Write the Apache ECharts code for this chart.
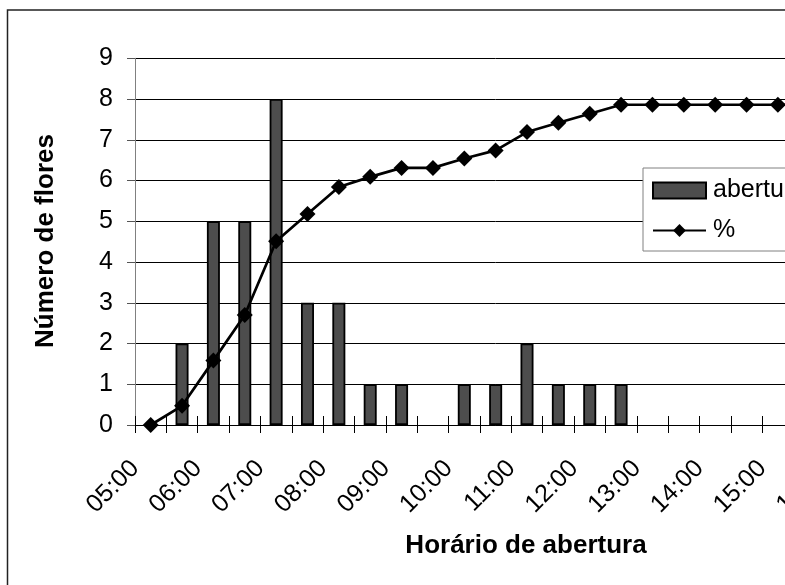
<!DOCTYPE html>
<html>
<head>
<meta charset="utf-8">
<script src="https://cdn.jsdelivr.net/npm/echarts@6/dist/echarts.min.js"></script>
<style>
html,body{margin:0;padding:0;width:785px;height:585px;overflow:hidden;background:#fff;}
#c{width:900px;height:585px;}
</style>
</head>
<body>
<div id="c"></div>
<script>
const categories = ["05:00","05:30","06:00","06:30","07:00","07:30","08:00","08:30","09:00","09:30","10:00","10:30","11:00","11:30","12:00","12:30","13:00","13:30","14:00","14:30","15:00","15:30","16:00"];
const abertura = [0,2,5,5,8,3,3,1,1,0,1,1,2,1,1,1,0,0,0,0,0,0,0];
const percent = [0,0.47,1.58,2.7,4.51,5.18,5.84,6.09,6.31,6.31,6.54,6.74,7.19,7.42,7.64,7.86,7.86,7.86,7.86,7.86,7.86,7.86,7.86];
const yTicks = [0,1,2,3,4,5,6,7,8,9];
const yTitle = "Número de flores";
const xTitle = "Horário de abertura";

const FONT = "'Liberation Sans', Arial, sans-serif";
const chart = echarts.init(document.getElementById('c'), null, {renderer:'canvas'});
chart.setOption({
  animation:false,
  backgroundColor:'#fff',
  grid:{left:135, right:43.7, top:58.3, bottom:160, containLabel:false},
  legend:{
    left:643, top:168, orient:'vertical',
    backgroundColor:'#fff', borderColor:'#808080', borderWidth:1,
    padding:[10,80,8,9], itemGap:15, itemWidth:53, itemHeight:16,
    textStyle:{fontFamily:FONT, fontSize:25, color:'#000', padding:[0,0,0,2]},
    data:[{name:'abertura', icon:'rect'},{name:'%'}]
  },
  xAxis:[{
    type:'category', data:categories, position:'bottom',
    axisLine:{lineStyle:{color:'#000', width:1}},
    axisTick:{show:true, length:8, interval:0, lineStyle:{color:'#000'}},
    axisLabel:{interval:1, rotate:45, margin:24, padding:[0,22,0,0], fontFamily:FONT, fontSize:25, color:'#000'},
    splitLine:{show:false}
  },{
    type:'category', data:categories, position:'bottom',
    axisLine:{show:false},
    axisTick:{show:true, inside:true, length:9, interval:0, lineStyle:{color:'#000'}},
    axisLabel:{show:false}, splitLine:{show:false}
  }],
  yAxis:{
    type:'value', min:yTicks[0], max:yTicks[yTicks.length-1], interval:1,
    axisLine:{show:true, lineStyle:{color:'#808080', width:1}},
    axisTick:{show:true, length:8, lineStyle:{color:'#555'}},
    axisLabel:{margin:22, fontFamily:FONT, fontSize:25, color:'#000'},
    splitLine:{show:true, lineStyle:{color:'#000', width:1}}
  },
  series:[{
    name:'abertura', type:'bar', data:abertura.map(v => v === 0 ? '-' : v), barWidth:13,
    itemStyle:{color:'#4d4d4d', borderColor:'#000', borderWidth:1.8}, z:2
  },{
    name:'%', type:'line', data:percent, symbol:'diamond', symbolSize:16,
    lineStyle:{color:'#000', width:2.7}, itemStyle:{color:'#000'}, z:3
  }],
  graphic:[{
    type:'rect', shape:{x:7.5, y:10, width:1200, height:1000},
    style:{fill:null, stroke:'#222', lineWidth:1.5}, z:-1, silent:true
  },{
    type:'text', x:46, y:241, rotation:Math.PI/2,
    style:{text:yTitle, font:"bold 26px 'Liberation Sans', Arial, sans-serif", fill:'#000', align:'center', verticalAlign:'middle'}
  },{
    type:'text', x:526, y:546,
    style:{text:xTitle, font:"bold 26px 'Liberation Sans', Arial, sans-serif", fill:'#000', align:'center', verticalAlign:'middle'}
  }]
});
</script>
</body>
</html>
